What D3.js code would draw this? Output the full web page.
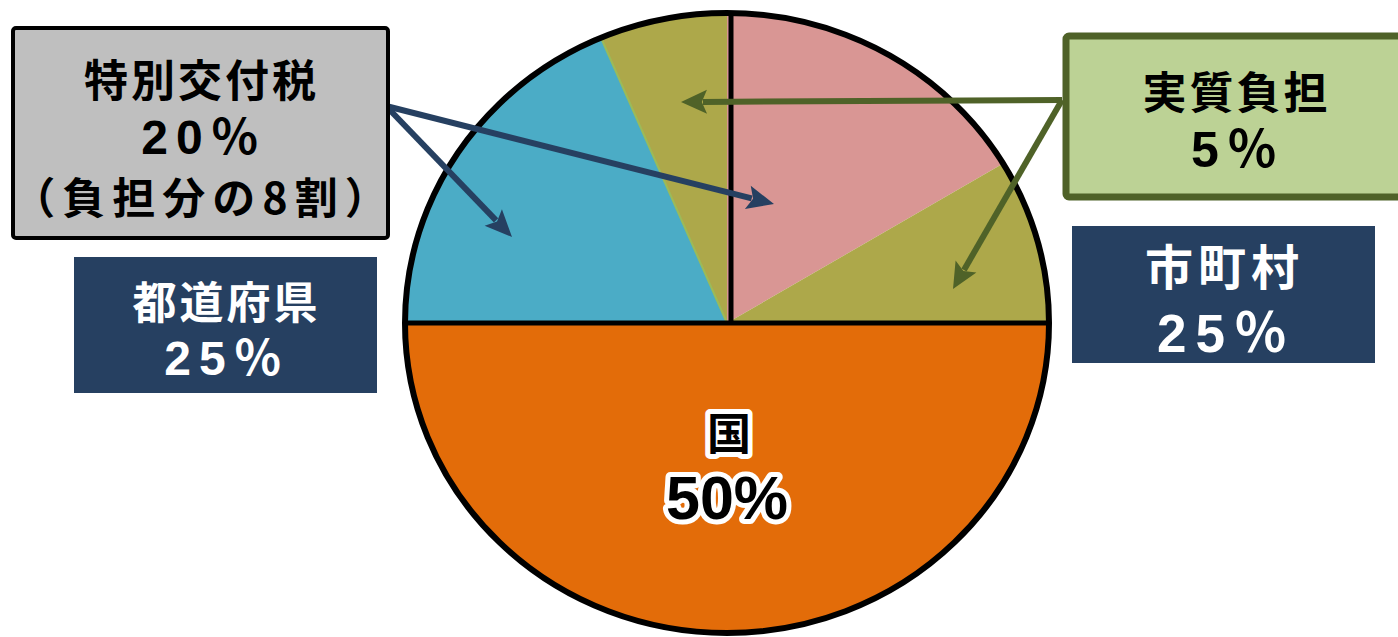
<!DOCTYPE html>
<meta charset="utf-8">
<script src="https://d3js.org/d3.v7.min.js"></script>
<style>
  body { margin: 0; background: #fff; }
  text { font-family: "Noto Sans CJK JP", "Noto Sans", sans-serif; font-weight: 700; }
  tspan.num { font-family: "Liberation Sans", "Noto Sans CJK JP", sans-serif; }
</style>
<body>
<div id="viz"></div>
<script>
// slice shares as drawn in the picture (percent of the full circle), clockwise from 12 o'clock
const sliceNames  = ["市町村 特別交付税", "市町村 実質負担", "国", "都道府県 特別交付税", "都道府県 実質負担"];
const sliceShares = [16.4, 8.6, 50, 18.6, 6.4];
const sliceColors = ["#d99694", "#ada84a", "#e36c09", "#4bacc6", "#ada84a"];

// label boxes
const boxLines = [
  ["特別交付税", "20％", "（負担分の8割）"],
  ["都道府県", "25％"],
  ["実質負担", "5％"],
  ["市町村", "25％"]
];
const centerLines = ["国", "50%"];

const width = 1398, height = 637;
const cx = 727, cy = 323, rx = 322, ry = 310;

const svg = d3.select("#viz")
  .append("svg")
    .attr("width", width)
    .attr("height", height);

const pie = d3.pie().sort(null).value(d => d);
const arcs = pie(sliceShares);
const arc = d3.arc().innerRadius(0).outerRadius(rx);

// pie is a circle squashed a little vertically
const pieG = svg.append("g")
  .attr("transform", `translate(${cx},${cy}) scale(1,${ry / rx})`);

pieG.selectAll("path")
  .data(arcs)
  .join("path")
    .attr("d", arc)
    .attr("fill", (d, i) => sliceColors[i]);

const edgePt = a => [cx + rx * Math.sin(a), cy - ry * Math.cos(a)];

// thin light green seam between blue and left olive
const seam = edgePt(arcs[3].endAngle);
svg.append("line")
  .attr("x1", cx).attr("y1", cy)
  .attr("x2", seam[0]).attr("y2", seam[1])
  .attr("stroke", "#9bbb59").attr("stroke-width", 2);

// divider lines
svg.append("line")
  .attr("x1", cx - rx).attr("x2", cx + rx)
  .attr("y1", cy).attr("y2", cy)
  .attr("stroke", "#000").attr("stroke-width", 5);
svg.append("line")
  .attr("x1", cx + 4).attr("x2", cx + 4)
  .attr("y1", cy - ry).attr("y2", cy)
  .attr("stroke", "#000").attr("stroke-width", 5);

svg.append("ellipse")
  .attr("cx", cx).attr("cy", cy)
  .attr("rx", rx).attr("ry", ry)
  .attr("fill", "none")
  .attr("stroke", "#000")
  .attr("stroke-width", 6);

// arrows
function arrow(x1, y1, x2, y2, color, w, hl, hw) {
  const dx = x2 - x1, dy = y2 - y1, len = Math.hypot(dx, dy);
  const ux = dx / len, uy = dy / len, px = -uy, py = ux;
  const bx = x2 - ux * hl, by = y2 - uy * hl;
  svg.append("line")
    .attr("x1", x1).attr("y1", y1)
    .attr("x2", bx + ux * 4).attr("y2", by + uy * 4)
    .attr("stroke", color).attr("stroke-width", w);
  const nx = x2 - ux * hl * 0.8, ny = y2 - uy * hl * 0.8;
  svg.append("path")
    .attr("d", `M${x2},${y2} L${bx + px * hw / 2},${by + py * hw / 2} L${nx},${ny} L${bx - px * hw / 2},${by - py * hw / 2} Z`)
    .attr("fill", color);
}
arrow(386, 106, 512, 237, "#264061", 6, 27, 24);
arrow(386, 106, 774, 204, "#264061", 6, 27, 24);
arrow(1062, 100, 681, 102, "#4f6228", 6, 26, 24);
arrow(1062, 100, 953, 289, "#4f6228", 6, 26, 24);

// boxes
svg.append("rect")
  .attr("x", 13).attr("y", 28).attr("width", 375).attr("height", 210)
  .attr("rx", 3)
  .attr("fill", "#bfbfbf").attr("stroke", "#000").attr("stroke-width", 4);
svg.append("rect")
  .attr("x", 74).attr("y", 257).attr("width", 303).attr("height", 136)
  .attr("fill", "#264061");
svg.append("rect")
  .attr("x", 1066).attr("y", 36).attr("width", 345).attr("height", 161)
  .attr("rx", 3)
  .attr("fill", "#bcd295").attr("stroke", "#4f6228").attr("stroke-width", 7);
svg.append("rect")
  .attr("x", 1072).attr("y", 226).attr("width", 303).attr("height", 137)
  .attr("fill", "#264061");

// one text element per box, one tspan per line: [x, baseline, size, spacing]
function block(lines, specs, color) {
  const t = svg.append("text")
    .attr("text-anchor", "middle")
    .attr("fill", color);
  lines.forEach((ln, i) => {
    const [x, y, size, sp] = specs[i];
    t.append("tspan")
      .attr("class", /^[0-9]/.test(ln) ? "num" : null)
      .attr("x", x + sp / 2).attr("y", y)
      .style("font-size", size + "px")
      .style("letter-spacing", sp + "px")
      .text(ln);
  });
  return t;
}

block(boxLines[0], [[200, 97, 44, 3], [200, 154, 48, 8], [200, 214, 43, 7]], "#000");
block(boxLines[1], [[225, 319, 44, 3], [223, 375, 48, 8]], "#fff");
block(boxLines[2], [[1235, 109, 44, 3], [1234, 167, 50, 8]], "#000");
block(boxLines[3], [[1222, 285, 48, 5], [1222, 352, 53, 9]], "#fff");

// centre label with white halo
block(centerLines, [[729, 450, 44, 0], [727, 519, 61, 0]], "#000")
  .attr("stroke", "#fff")
  .attr("stroke-width", 10)
  .attr("stroke-linejoin", "round")
  .attr("paint-order", "stroke");
</script>
</body>
